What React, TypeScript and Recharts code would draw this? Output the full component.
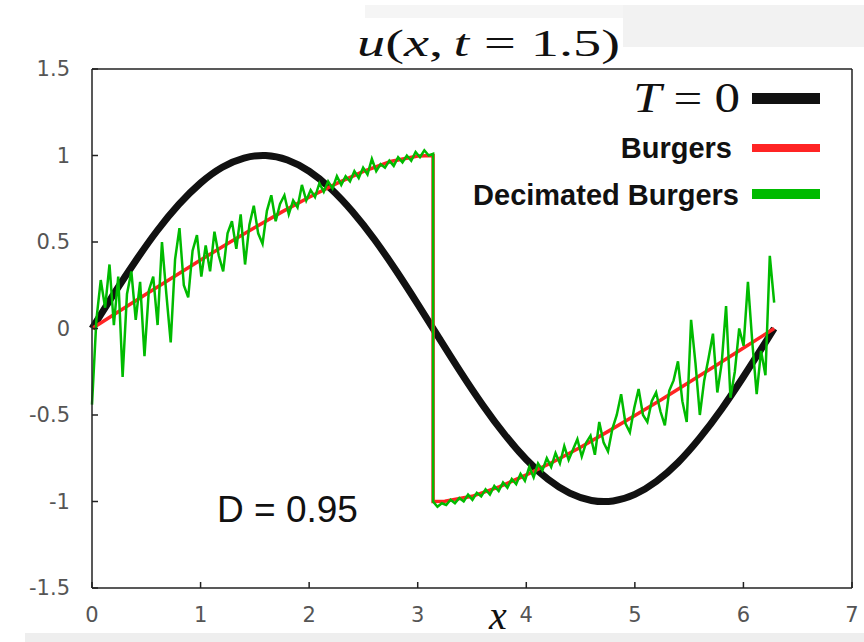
import { Line, LineChart, XAxis, YAxis } from "recharts";

// T = 0 initial condition
const sinX = [0, 0.2, 0.4, 0.6, 0.8, 1.0, 1.2, 1.4, 1.6, 1.8, 2.0, 2.2, 2.4, 2.6, 2.8, 3.0, 3.2, 3.4, 3.6, 3.8, 4.0, 4.2, 4.4, 4.6, 4.8, 5.0, 5.2, 5.4, 5.6, 5.8, 6.0, 6.2, 6.2832];
const sinY = [0, 0.199, 0.389, 0.565, 0.717, 0.841, 0.932, 0.985, 1.0, 0.974, 0.909, 0.808, 0.675, 0.516, 0.335, 0.141, -0.058, -0.256, -0.443, -0.612, -0.757, -0.872, -0.952, -0.994, -0.997, -0.959, -0.883, -0.773, -0.631, -0.465, -0.279, -0.083, 0];

// Burgers solution (red), with the shock at pi
const burgersX = [0, 0.25, 0.5, 0.75, 1.0, 1.25, 1.5, 1.75, 2.0, 2.25, 2.5, 2.75, 3.0, 3.1416, 3.1416, 3.25, 3.5, 3.75, 4.0, 4.25, 4.5, 4.75, 5.0, 5.25, 5.5, 5.75, 6.0, 6.2832];
const burgersY = [0, 0.1, 0.2, 0.298, 0.396, 0.491, 0.584, 0.674, 0.759, 0.837, 0.908, 0.965, 0.997, 1.0, -1.0, -0.998, -0.97, -0.916, -0.846, -0.77, -0.686, -0.596, -0.503, -0.409, -0.311, -0.213, -0.113, 0];

// decimated Burgers (green), sampled on an even grid left and right of the shock
const decimatedLeft = [
  -0.44, 0.05, 0.28, 0.12, 0.37, 0.02, 0.3, -0.28, 0.2, 0.33,
  0.05, 0.27, -0.16, 0.22, 0.3, 0.02, 0.5, 0.2, -0.08, 0.4,
  0.58, 0.25, 0.18, 0.45, 0.54, 0.3, 0.48, 0.33, 0.56, 0.42,
  0.33, 0.55, 0.62, 0.46, 0.66, 0.37, 0.6, 0.71, 0.55, 0.49,
  0.68, 0.77, 0.62, 0.72, 0.77, 0.66, 0.74, 0.7, 0.83, 0.74,
  0.8, 0.76, 0.84, 0.79, 0.85, 0.81, 0.88, 0.83, 0.88, 0.85,
  0.91, 0.87, 0.93, 0.89, 0.98, 0.91, 0.95, 0.93, 0.97, 0.94,
  0.99, 0.96, 1.0, 0.97, 1.02, 0.99, 1.03, 1.0, 1.01,
];
const decimatedRight = [
  -1.0, -1.03, -1.01, -1.02, -0.99, -1.01, -0.98, -1.0, -0.96, -0.99,
  -0.95, -0.97, -0.93, -0.96, -0.91, -0.94, -0.89, -0.92, -0.87, -0.9,
  -0.84, -0.88, -0.8, -0.86, -0.78, -0.82, -0.75, -0.8, -0.72, -0.78,
  -0.68, -0.76, -0.7, -0.64, -0.74, -0.66, -0.62, -0.73, -0.54, -0.66,
  -0.71, -0.58, -0.5, -0.38, -0.55, -0.6, -0.46, -0.35, -0.5, -0.54,
  -0.42, -0.37, -0.48, -0.56, -0.36, -0.3, -0.19, -0.42, -0.54, 0.05,
  -0.2, -0.5, -0.3, -0.17, -0.03, -0.37, -0.2, 0.13, -0.4, -0.25,
  0.0, -0.1, 0.27, -0.08, -0.38, -0.13, -0.27, 0.42, 0.15,
];

const xTicks = [0, 1, 2, 3, 4, 5, 6, 7];
const yTicks = [-1.5, -1, -0.5, 0, 0.5, 1, 1.5];

const blackData = sinX.map((x, i) => ({ x, y: sinY[i] }));
const redData = burgersX.map((x, i) => ({ x, y: burgersY[i] }));
const step = Math.PI / (decimatedLeft.length - 1);
const greenData = [
  ...decimatedLeft.map((y, i) => ({ x: i * step, y })),
  ...decimatedRight.map((y, i) => ({ x: Math.PI + i * step, y })),
];

const tickStyle = { fill: "#555", fontSize: 21, fontFamily: "DejaVu Sans" };
const frame = { stroke: "#222", strokeWidth: 1.5 };
const serif = "Liberation Serif, serif";
const sans = "Liberation Sans, Arial, sans-serif";

export default function App() {
  return (
    <div style={{ position: "absolute", left: 0, top: 0, width: 864, height: 642, background: "#fff", overflow: "hidden" }}>
      <div style={{ position: "absolute", left: 365, top: 5, width: 499, height: 13, background: "#f5f5f5" }} />
      <div style={{ position: "absolute", left: 623, top: 5, width: 241, height: 42, background: "#f2f2f2" }} />
      <div style={{ position: "absolute", left: 25, top: 633, width: 839, height: 9, background: "#eeeeee" }} />
      <div style={{ position: "absolute", left: 0, top: 0 }}>
        <LineChart width={864} height={642} margin={{ top: 68, right: 11, bottom: 53, left: 91 }}>
          <XAxis
            type="number"
            dataKey="x"
            domain={[0, 7]}
            ticks={xTicks}
            height={1}
            tickSize={-6}
            tickMargin={25}
            tick={tickStyle}
            axisLine={frame}
            tickLine={frame}
          />
          <XAxis
            xAxisId="top"
            orientation="top"
            type="number"
            dataKey="x"
            domain={[0, 7]}
            ticks={xTicks}
            height={1}
            tickSize={-6}
            tickFormatter={() => ""}
            axisLine={frame}
            tickLine={frame}
          />
          <YAxis
            type="number"
            domain={[-1.5, 1.5]}
            ticks={yTicks}
            width={1}
            tickSize={-6}
            tickMargin={28}
            tick={tickStyle}
            axisLine={frame}
            tickLine={frame}
          />
          <YAxis
            yAxisId="right"
            orientation="right"
            type="number"
            domain={[-1.5, 1.5]}
            ticks={yTicks}
            width={1}
            tickSize={-6}
            tickFormatter={() => ""}
            axisLine={frame}
            tickLine={frame}
          />
          <Line data={blackData} dataKey="y" type="natural" stroke="#111" strokeWidth={7} dot={false} isAnimationActive={false} />
          <Line data={redData} dataKey="y" type="linear" stroke="#ff2424" strokeWidth={3.5} dot={false} isAnimationActive={false} />
          <Line data={greenData} dataKey="y" type="linear" stroke="#00bb00" strokeWidth={2.5} dot={false} isAnimationActive={false} />
        </LineChart>
      </div>
      <svg width={864} height={642} style={{ position: "absolute", left: 0, top: 0, pointerEvents: "none" }}>
        <text x={357} y={56} fontFamily={serif} fontSize={38} fill="#111" textLength={263} lengthAdjust="spacingAndGlyphs">
          <tspan fontStyle="italic">u</tspan>
          <tspan>(</tspan>
          <tspan fontStyle="italic">x</tspan>
          <tspan>,</tspan>
          <tspan dx={7} fontStyle="italic">t</tspan>
          <tspan dx={10}>=</tspan>
          <tspan dx={10}>1.5)</tspan>
        </text>
        <text x={633} y={112} fontFamily={serif} fontSize={42} fill="#111" textLength={107} lengthAdjust="spacingAndGlyphs">
          <tspan fontStyle="italic">T</tspan>
          <tspan dx={10}>=</tspan>
          <tspan dx={10}>0</tspan>
        </text>
        <rect x={752} y={93} width={68} height={11} fill="#111" />
        <text x={732} y={158} textAnchor="end" fontFamily={sans} fontWeight="bold" fontSize={29} fill="#111">
          Burgers
        </text>
        <rect x={752} y={144} width={68} height={8} fill="#ff2424" />
        <text x={739} y={205} textAnchor="end" fontFamily={sans} fontWeight="bold" fontSize={29} fill="#111">
          Decimated Burgers
        </text>
        <rect x={752} y={189} width={68} height={10} fill="#00bb00" />
        <text x={217} y={522} fontFamily={sans} fontSize={37} fill="#111">
          D = 0.95
        </text>
        <text x={498} y={629} textAnchor="middle" fontFamily={serif} fontStyle="italic" fontSize={40} fill="#111">
          x
        </text>
      </svg>
    </div>
  );
}
